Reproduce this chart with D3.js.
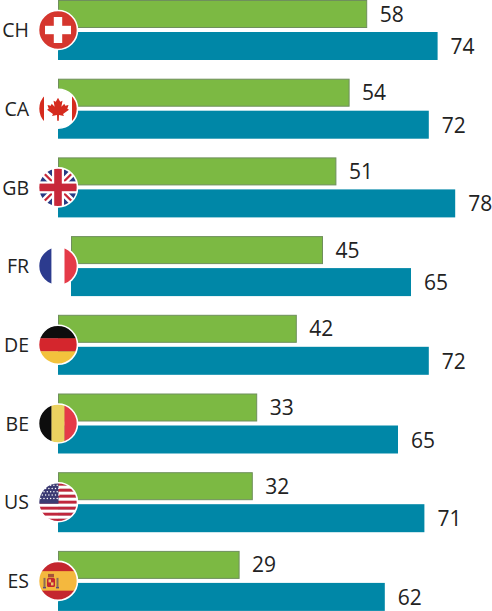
<!DOCTYPE html>
<html><head><meta charset="utf-8">
<script src="https://cdn.jsdelivr.net/npm/d3@7"></script>
<style>html,body{margin:0;padding:0;background:#fff;}svg{display:block;}</style>
</head><body>
<svg id="chart" width="492" height="611"></svg>
<script>
const countries = ["CH","CA","GB","FR","DE","BE","US","ES"];
const greenValues = [58,54,51,45,42,33,32,29];
const blueValues  = [74,72,78,65,72,65,71,62];

const W = 492, H = 611;
const svg = d3.select("#chart");
const defs = svg.append("defs");

const x = d3.scaleLinear().domain([0, 100]).range([112, 552]);
const y = d3.scaleBand().domain(countries).range([0, 78.7 * countries.length]).paddingInner(0);
const barStart = 58;
const shift = c => c === "FR" ? 13 : 0;

const GREEN = "#7cb943", GREEN_STROKE = "#6f8f5c", BLUE = "#0087a7", TEXT = "#222";
const FONT = "'Open Sans', 'Noto Sans', sans-serif";

const rows = countries.map((c, i) => ({c, g: greenValues[i], b: blueValues[i]}));

const row = svg.selectAll("g.row").data(rows).join("g").attr("class", "row")
  .attr("transform", d => `translate(0,${y(d.c)})`);

// green bars
row.append("rect")
  .attr("x", d => barStart + shift(d.c) + 0.5)
  .attr("y", 0.5)
  .attr("width", d => x(d.g) - barStart - 1)
  .attr("height", 27)
  .attr("fill", GREEN).attr("stroke", GREEN_STROKE).attr("stroke-width", 1);

// blue bars
row.append("rect")
  .attr("x", d => barStart + shift(d.c))
  .attr("y", 32)
  .attr("width", d => x(d.b) - barStart)
  .attr("height", 28)
  .attr("fill", BLUE);

// value labels
row.append("text")
  .attr("x", d => x(d.g) + shift(d.c) + 12.5)
  .attr("y", 21.5)
  .attr("font-family", FONT).attr("font-size", 21).attr("fill", TEXT)
  .text(d => d.g);
row.append("text")
  .attr("x", d => x(d.b) + shift(d.c) + 13)
  .attr("y", 54)
  .attr("font-family", FONT).attr("font-size", 21).attr("fill", TEXT)
  .text(d => d.b);

// country labels
row.append("text")
  .attr("x", 29).attr("y", 37.3)
  .attr("text-anchor", "end")
  .attr("font-family", FONT).attr("font-size", 19.5).attr("fill", TEXT)
  .text(d => d.c);

// flags
const R = 19.5;
defs.append("clipPath").attr("id", "flagclip").append("circle").attr("r", R);

const flags = {
  CH(g) {
    g.append("rect").attr("x", -R).attr("y", -R).attr("width", 2*R).attr("height", 2*R).attr("fill", "#d5362e");
    g.append("rect").attr("x", -13).attr("y", -4.2).attr("width", 26).attr("height", 8.4).attr("fill", "#fff");
    g.append("rect").attr("x", -4.2).attr("y", -13).attr("width", 8.4).attr("height", 26).attr("fill", "#fff");
  },
  CA(g) {
    g.append("rect").attr("x", -R).attr("y", -R).attr("width", 2*R).attr("height", 2*R).attr("fill", "#fff");
    g.append("rect").attr("x", -R).attr("y", -R).attr("width", 5.5).attr("height", 2*R).attr("fill", "#d52b1e");
    g.append("rect").attr("x", R-5.5).attr("y", -R).attr("width", 5.5).attr("height", 2*R).attr("fill", "#d52b1e");
    g.append("path").attr("fill", "#d52b1e")
      .attr("d", "M0,-11 L2.2,-7 L4.5,-8 L3.4,-2 L6.3,-5 L7.2,-3 L10.5,-3.8 L9.3,0 L11,1 L5,5.4 L6,7.4 L1,6.4 L0.8,12 L-0.8,12 L-1,6.4 L-6,7.4 L-5,5.4 L-11,1 L-9.3,0 L-10.5,-3.8 L-7.2,-3 L-6.3,-5 L-3.4,-2 L-4.5,-8 L-2.2,-7 Z");
  },
  GB(g) {
    g.append("rect").attr("x", -R).attr("y", -R).attr("width", 2*R).attr("height", 2*R).attr("fill", "#283a84");
    g.append("path").attr("d", `M${-R},${-R}L${R},${R}M${R},${-R}L${-R},${R}`).attr("stroke", "#fff").attr("stroke-width", 7);
    g.append("path").attr("d", `M${-R},${-R}L${R},${R}M${R},${-R}L${-R},${R}`).attr("stroke", "#c8283a").attr("stroke-width", 2.2);
    g.append("rect").attr("x", -R).attr("y", -6).attr("width", 2*R).attr("height", 12).attr("fill", "#fff");
    g.append("rect").attr("x", -6).attr("y", -R).attr("width", 12).attr("height", 2*R).attr("fill", "#fff");
    g.append("rect").attr("x", -R).attr("y", -3.8).attr("width", 2*R).attr("height", 7.6).attr("fill", "#c8283a");
    g.append("rect").attr("x", -3.8).attr("y", -R).attr("width", 7.6).attr("height", 2*R).attr("fill", "#c8283a");
  },
  FR(g) {
    const cols = ["#2c3b8e", "#fff", "#e53a48"];
    cols.forEach((c, i) => g.append("rect").attr("x", -R + i*2*R/3).attr("y", -R).attr("width", 2*R/3 + 0.3).attr("height", 2*R).attr("fill", c));
  },
  DE(g) {
    const cols = ["#0d0d0d", "#d4262d", "#f3c23c"];
    cols.forEach((c, i) => g.append("rect").attr("x", -R).attr("y", -R + i*2*R/3).attr("width", 2*R).attr("height", 2*R/3 + 0.3).attr("fill", c));
  },
  BE(g) {
    const cols = ["#0d0d0d", "#ebd260", "#e53a48"];
    cols.forEach((c, i) => g.append("rect").attr("x", -R + i*2*R/3).attr("y", -R).attr("width", 2*R/3 + 0.3).attr("height", 2*R).attr("fill", c));
  },
  US(g) {
    const sh = 2*R/13;
    for (let i = 0; i < 13; i++) {
      g.append("rect").attr("x", -R).attr("y", -R + i*sh).attr("width", 2*R).attr("height", sh + 0.2)
        .attr("fill", i % 2 === 0 ? "#c0273d" : "#fff");
    }
    g.append("rect").attr("x", -R).attr("y", -R).attr("width", R + 0.5).attr("height", sh*7).attr("fill", "#3b3a72");
    for (let r = 0; r < 5; r++) {
      for (let c = 0; c < 6; c++) {
        g.append("circle").attr("cx", -R + 2.2 + c*3.3 + (r % 2) * 1.6).attr("cy", -R + 2.5 + r*3.3).attr("r", 0.75).attr("fill", "#fff");
      }
    }
  },
  ES(g) {
    g.append("rect").attr("x", -R).attr("y", -R).attr("width", 2*R).attr("height", 2*R).attr("fill", "#c4262e");
    g.append("rect").attr("x", -R).attr("y", -R/2).attr("width", 2*R).attr("height", R).attr("fill", "#f4b83e");
    // simplified coat of arms
    const ca = g.append("g").attr("transform", "translate(-7,1)");
    ca.append("rect").attr("x", -4).attr("y", -4).attr("width", 8).attr("height", 9).attr("rx", 1.5).attr("fill", "#c4262e");
    ca.append("rect").attr("x", -2.5).attr("y", -2.5).attr("width", 2.5).attr("height", 3).attr("fill", "#e9c66a");
    ca.append("rect").attr("x", 0).attr("y", 0.5).attr("width", 2.5).attr("height", 3).attr("fill", "#e9c66a");
    ca.append("rect").attr("x", -3).attr("y", -8).attr("width", 6).attr("height", 3.5).attr("fill", "#a5533a");
    ca.append("rect").attr("x", -7.5).attr("y", -4).attr("width", 2).attr("height", 9).attr("fill", "#8a6d57");
    ca.append("rect").attr("x", 5.5).attr("y", -4).attr("width", 2).attr("height", 9).attr("fill", "#8a6d57");
    ca.append("rect").attr("x", -8).attr("y", 5).attr("width", 3).attr("height", 1.5).attr("fill", "#5a4a7a");
    ca.append("rect").attr("x", 5).attr("y", 5).attr("width", 3).attr("height", 1.5).attr("fill", "#5a4a7a");
  }
};

row.each(function(d) {
  const fg = d3.select(this).append("g").attr("transform", `translate(${barStart},30)`);
  const inner = fg.append("g").attr("clip-path", "url(#flagclip)");
  flags[d.c](inner);
  fg.append("circle").attr("r", R).attr("fill", "none").attr("stroke", "#fff").attr("stroke-width", 1.6);
});
</script>
</body></html>
